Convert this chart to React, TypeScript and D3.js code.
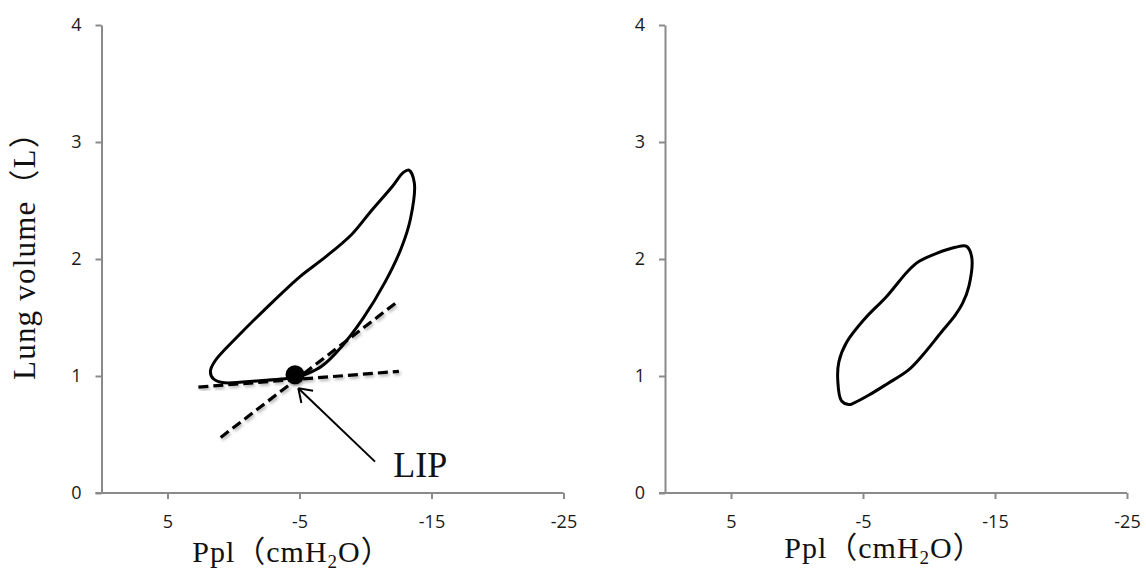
import React, { useEffect, useRef } from 'react';
import * as d3 from 'd3';

// pressure (cmH2O) and lung volume (L)
const xTicks = [5, -5, -15, -25];
const yTicks = [0, 1, 2, 3, 4];

// left loop, traced clockwise from the top tip
const leftLoopP = [-13.29, -13.7, -13.4, -12.7, -11.47, -9.8, -8.1, -6.7, -5.6, -4.76, -1.96, 0.83, 1.53, 1.75, 1.39, -0.29, -2.52, -5.04, -7.0, -8.95, -10.35, -12.03, -12.87];
const leftLoopV = [2.76, 2.65, 2.34, 2.09, 1.8, 1.49, 1.24, 1.085, 1.02, 0.99, 0.96, 0.944, 0.976, 1.04, 1.13, 1.335, 1.585, 1.85, 2.02, 2.21, 2.4, 2.62, 2.74];

// right loop
const rightLoopP = [-12.82, -13.23, -13.03, -12.54, -11.99, -10.9, -9.53, -8.43, -6.79, -5.42, -4.33, -3.92, -3.36, -3.09, -3.17, -3.77, -5.14, -6.79, -8.43, -9.26, -10.62, -11.99];
const rightLoopV = [2.11, 2.02, 1.77, 1.62, 1.52, 1.37, 1.18, 1.05, 0.93, 0.835, 0.77, 0.756, 0.79, 0.96, 1.12, 1.29, 1.49, 1.68, 1.9, 1.98, 2.05, 2.1];

// tangent lines through the lower inflection point
const tangentShallowP = [2.66, -12.53];
const tangentShallowV = [0.905, 1.04];
const tangentSteepP = [0.97, -12.36];
const tangentSteepV = [0.475, 1.63];

const lipP = -4.66;
const lipV = 1.01;
const arrowP = [-10.72, -4.91]; // tail, tip
const arrowV = [0.268, 0.895];
const lipLabelP = -12.1;
const lipLabelV = 0.137;

const App: React.FC = () => {
  const svgRef = useRef<SVGSVGElement>(null);

  useEffect(() => {
    const svg = d3.select(svgRef.current);
    svg.selectAll('*').remove();

    const defs = svg.append('defs');
    const f = defs.append('filter').attr('id', 'soft').attr('x', '-20%').attr('y', '-20%').attr('width', '140%').attr('height', '140%');
    f.append('feDropShadow').attr('dx', 1.5).attr('dy', 2).attr('stdDeviation', 1.5).attr('flood-color', '#000').attr('flood-opacity', 0.3);

    const panels = [
      { x0: 101.5, x1: 563.5, titleX: 292, titleY: 562, yLabel: true, loopP: leftLoopP, loopV: leftLoopV, lip: true },
      { x0: 665, x1: 1127, titleX: 884, titleY: 558, yLabel: false, loopP: rightLoopP, loopV: rightLoopV, lip: false },
    ];

    panels.forEach(p => {
      const x = d3.scaleLinear().domain([10, -25]).range([p.x0, p.x1]);
      const y = d3.scaleLinear().domain([0, 4]).range([493, 25]);
      const g = svg.append('g');

      // x axis
      const xa = g.append('g')
        .attr('transform', `translate(0,${y(0)})`)
        .call(d3.axisBottom(x).tickValues(xTicks).tickSize(6).tickSizeOuter(0).tickPadding(16).tickFormat(d => String(d)));
      // y axis
      const ya = g.append('g')
        .attr('transform', `translate(${x(10)},0)`)
        .call(d3.axisLeft(y).tickValues(yTicks).tickSize(6).tickSizeOuter(0).tickPadding(14).tickFormat(d => String(d)));

      [xa, ya].forEach(a => {
        a.select('.domain').attr('stroke', '#8a8a8a').attr('stroke-width', 2);
        a.selectAll('line').attr('stroke', '#8a8a8a').attr('stroke-width', 2);
        a.selectAll('text')
          .attr('fill', '#1a1a1a')
          .style('font-family', '"Open Sans", sans-serif')
          .style('font-size', '18px');
      });
      // extend x axis line to the left tick
      xa.select('.domain').attr('d', `M${-6 + p.x0},0H${p.x1}`);

      // x title
      const t = g.append('text')
        .attr('x', p.titleX)
        .attr('y', p.titleY)
        .attr('text-anchor', 'middle')
        .style('font-family', '"Liberation Serif", "Noto Sans CJK JP", serif')
        .style('font-size', '30px')
        .style('letter-spacing', '1px')
        .attr('fill', '#111');
      t.append('tspan').text('Ppl（cmH');
      t.append('tspan').attr('dy', 6).style('font-size', '19px').text('2');
      t.append('tspan').attr('dy', -6).text('O）');

      if (p.yLabel) {
        g.append('text')
          .attr('transform', `translate(35,248) rotate(-90)`)
          .attr('text-anchor', 'middle')
          .style('font-family', '"Liberation Serif", "Noto Sans CJK JP", serif')
          .style('font-size', '31px')
          .style('letter-spacing', '1.2px')
          .attr('fill', '#111')
          .text('Lung volume（L）');
      }

      // loop
      const pts: [number, number][] = p.loopP.map((v, i) => [x(v), y(p.loopV[i])]);
      g.append('path')
        .attr('d', d3.line().curve(d3.curveCatmullRomClosed.alpha(0.5))(pts))
        .attr('fill', 'none')
        .attr('stroke', '#000')
        .attr('stroke-width', 3);

      if (p.lip) {
        [[tangentShallowP, tangentShallowV], [tangentSteepP, tangentSteepV]].forEach(([ps, vs]) => {
          g.append('line')
            .attr('x1', x(ps[0])).attr('y1', y(vs[0]))
            .attr('x2', x(ps[1])).attr('y2', y(vs[1]))
            .attr('stroke', '#000')
            .attr('stroke-width', 3.2)
            .attr('stroke-dasharray', '10,5')
            .attr('filter', 'url(#soft)');
        });

        g.append('circle')
          .attr('cx', x(lipP))
          .attr('cy', y(lipV))
          .attr('r', 9.5)
          .attr('fill', '#000')
          .attr('filter', 'url(#soft)');

        // arrow
        const tx = x(arrowP[0]), ty = y(arrowV[0]);
        const hx = x(arrowP[1]), hy = y(arrowV[1]);
        g.append('line')
          .attr('x1', tx).attr('y1', ty).attr('x2', hx).attr('y2', hy)
          .attr('stroke', '#000').attr('stroke-width', 2);
        const ang = Math.atan2(ty - hy, tx - hx);
        [-0.6, 0.6].forEach(da => {
          g.append('line')
            .attr('x1', hx).attr('y1', hy)
            .attr('x2', hx + 15 * Math.cos(ang + da))
            .attr('y2', hy + 15 * Math.sin(ang + da))
            .attr('stroke', '#000').attr('stroke-width', 2);
        });

        g.append('text')
          .attr('x', x(lipLabelP))
          .attr('y', y(lipLabelV))
          .style('font-family', '"Liberation Serif", serif')
          .style('font-size', '36px')
          .attr('fill', '#111')
          .text('LIP');
      }
    });
  }, []);

  return (
    <svg
      ref={svgRef}
      width={1146}
      height={573}
      style={{ position: 'absolute', left: 0, top: 0, background: '#fff' }}
    />
  );
};

export default App;
